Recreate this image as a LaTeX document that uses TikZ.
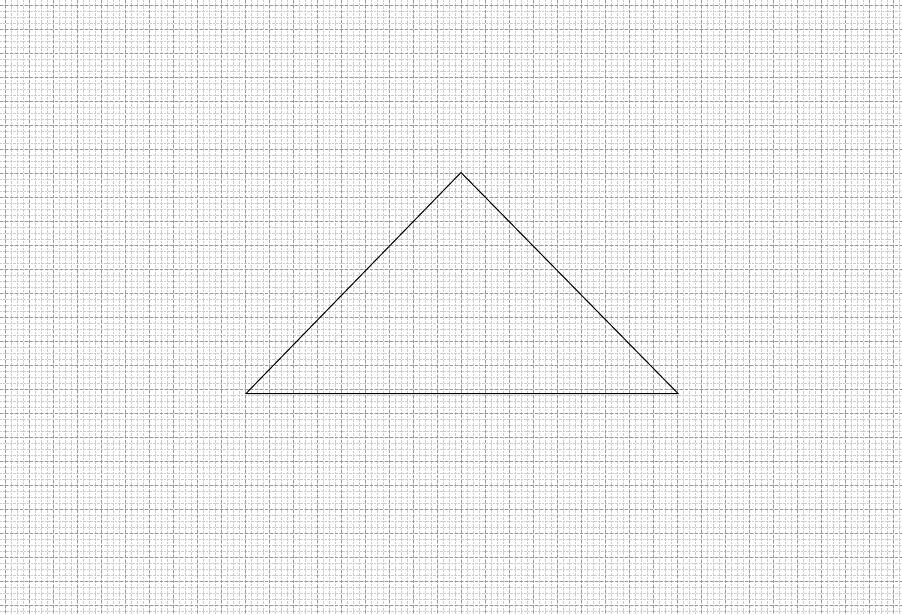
\documentclass[tikz,border=0pt]{standalone}
\begin{document}
\begin{tikzpicture}[x=1pt,y=-1pt,
  finegrid/.style={draw=black!20,line width=0.4pt,densely dotted},
  majorgrid/.style={draw=black!40,line width=0.6pt,dash pattern=on 3pt off 2pt},
  edge/.style={draw=black,line width=1pt}]
\useasboundingbox (0,0) rectangle (902,614);
\fill[white] (0,0) rectangle (902,614);
\foreach \x in {-1,5,...,902} {\draw[finegrid] (\x,0) -- (\x,614);}
\foreach \y in {-1,5,...,614} {\draw[finegrid] (0,\y) -- (902,\y);}
\foreach \x in {5,29,...,902} {\draw[majorgrid] (\x,0) -- (\x,614);}
\foreach \y in {5,29,...,614} {\draw[majorgrid] (0,\y) -- (902,\y);}
\coordinate (apex) at (461,172.5);
\coordinate (left) at (246,393.5);
\coordinate (right) at (678,393.5);
\draw[edge,line join=miter] (apex) -- (right) -- (left) -- cycle;
\end{tikzpicture}
\end{document}
